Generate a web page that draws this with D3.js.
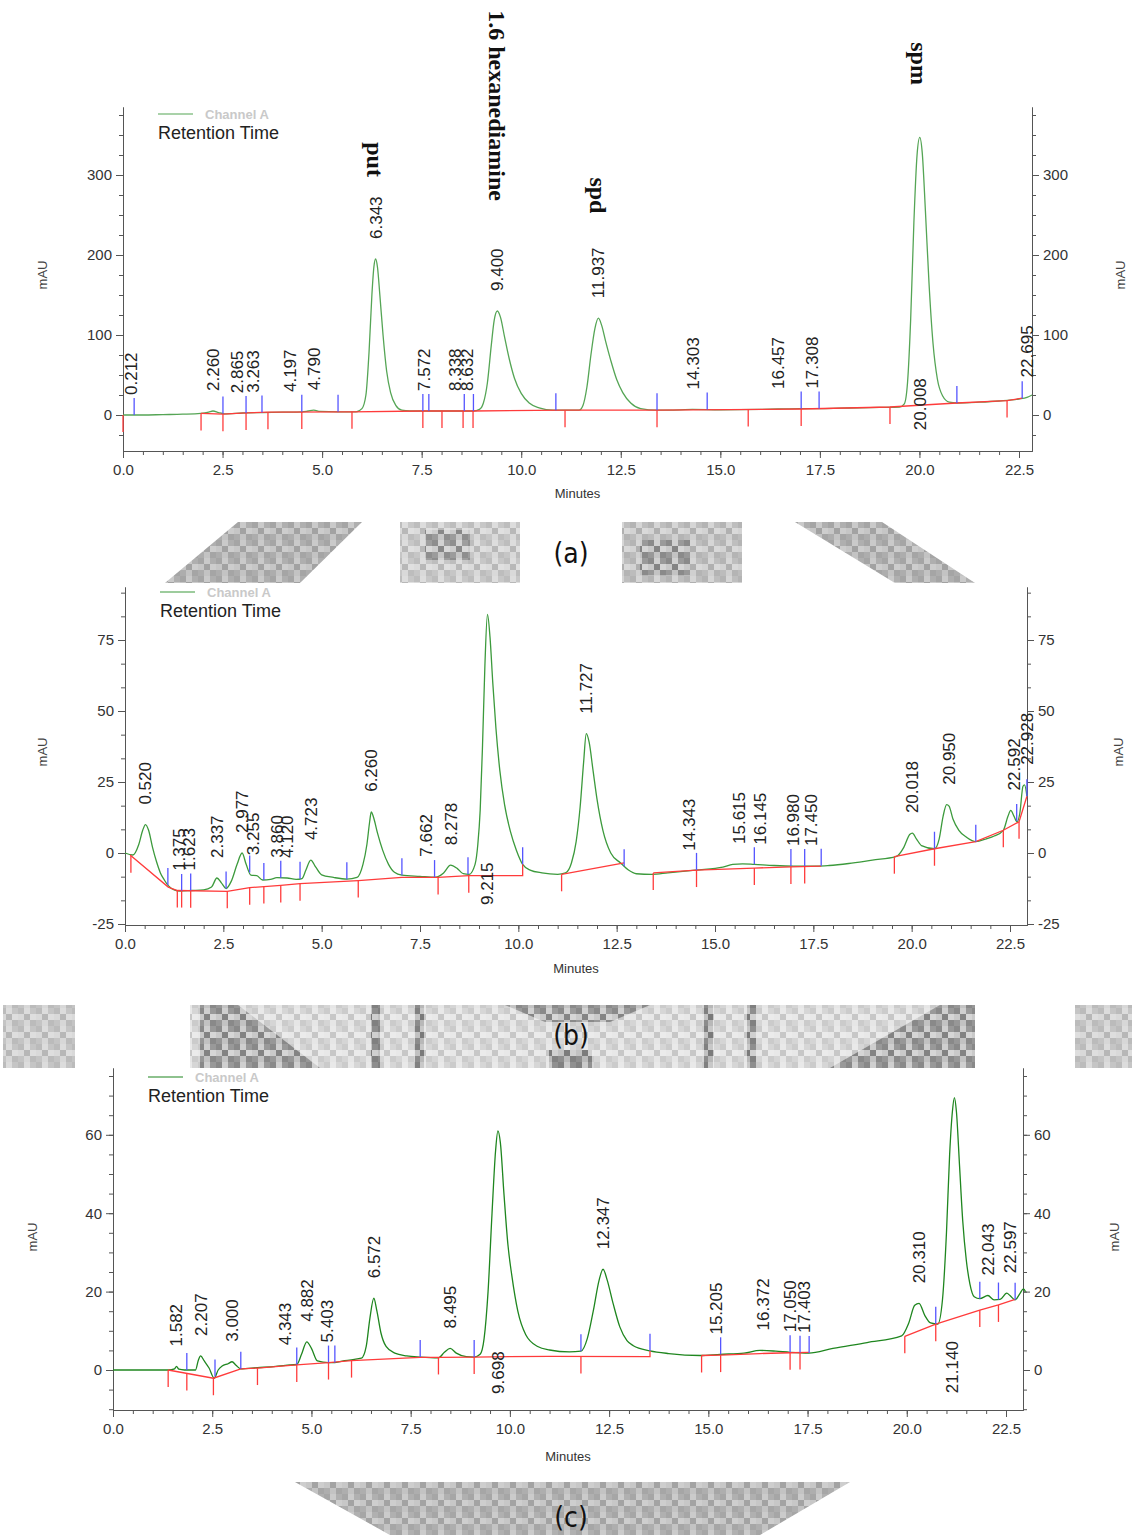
<!DOCTYPE html>
<html>
<head>
<meta charset="utf-8">
<script src="https://cdn.jsdelivr.net/npm/d3@7"></script>
<style>
body { margin: 0; background: #fff; }
text { font-family: "Liberation Sans", Arial, sans-serif; }
</style>
</head>
<body>
<div id="chart"></div>
<script>
// ---- data: [minutes, mAU] ----
var traceA = [[0,0],[0.5,0],[1.0,0.5],[1.5,1],[1.95,2],[2.15,3.5],[2.26,5],[2.4,3],[2.55,1.5],[3.0,2.5],[3.5,3],[4.0,3.5],[4.5,4],[4.65,5],[4.79,6],[4.95,4.5],[5.4,4],[5.85,4],[6.0,8],[6.1,25],[6.18,80],[6.25,150],[6.3,185],[6.343,195],[6.39,185],[6.45,150],[6.53,100],[6.62,55],[6.72,28],[6.85,12],[7.0,6],[7.2,5],[7.6,5],[8.2,5],[8.8,5],[8.95,7],[9.05,15],[9.15,40],[9.25,88],[9.32,118],[9.4,130],[9.48,122],[9.58,98],[9.7,70],[9.83,46],[10.0,27],[10.2,15],[10.45,9],[10.8,6],[11.45,6],[11.55,12],[11.65,35],[11.75,75],[11.85,108],[11.937,121],[12.02,112],[12.12,92],[12.25,68],[12.4,44],[12.55,28],[12.75,15],[13.0,8],[13.4,6],[14.0,6.5],[14.3,7],[15.0,6.5],[16.0,7],[16.45,7.5],[17.0,8],[17.5,8],[18.0,8.5],[18.5,9],[19.0,9.5],[19.5,10],[19.62,14],[19.7,40],[19.78,120],[19.86,240],[19.94,325],[20.008,347],[20.07,328],[20.15,255],[20.24,165],[20.34,90],[20.45,45],[20.58,24],[20.75,16],[20.94,15],[21.5,16],[22.0,17.5],[22.5,20],[22.7,22],[22.83,25]];
var baseA = [[[1.96,2],[2.51,1],[3.09,2.6],[3.64,3.5],[5.75,4],[7.53,5],[8.79,5],[11.1,6],[13.41,6],[17.03,7.5],[19.26,10],[20.94,15],[22.2,18],[22.58,21]]];
var blueA = [0.28,2.51,3.09,3.49,4.49,5.4,7.53,7.68,8.57,8.8,10.87,13.41,14.67,17.03,17.48,20.94,22.58];
var redA = [0.0,1.96,2.51,3.09,3.64,4.49,5.75,7.53,8.01,8.54,8.79,11.1,13.41,15.7,17.03,19.26,22.2];
var rtA = [0.212,2.260,2.865,3.263,4.197,4.790,6.343,7.572,8.338,8.632,9.400,11.937,14.303,16.457,17.308,22.695];
var rtBelowA = [[20.008,-19]];

var compounds = ["put", "1.6 hexanediamine", "spd", "spm"];
var compoundRT = [6.343, 9.400, 11.937, 20.008];
var compoundTop = [341, 506, 297, 466];

var traceB = [[0,0],[0.2,-0.7],[0.35,3],[0.45,8],[0.52,10],[0.6,8],[0.7,2],[0.8,-3],[0.9,-7],[1.0,-9.5],[1.1,-11.5],[1.25,-13],[1.4,-13.4],[1.7,-13.2],[2.0,-13],[2.2,-12],[2.337,-8.8],[2.45,-10.5],[2.57,-12.5],[2.7,-10],[2.85,-4],[2.977,0],[3.08,-4],[3.2,-7.8],[3.35,-8],[3.5,-9.5],[3.7,-9.3],[3.86,-8.7],[4.12,-8.8],[4.35,-9.3],[4.5,-9],[4.6,-6],[4.723,-2.5],[4.85,-5],[5.0,-7.7],[5.3,-8.6],[5.64,-9.2],[5.9,-8.6],[6.05,-4],[6.15,3],[6.22,11],[6.26,14.5],[6.32,12.5],[6.42,7],[6.55,1],[6.7,-4],[6.85,-6.8],[7.04,-7.8],[7.5,-8.2],[7.9,-8.5],[8.1,-7],[8.278,-4.3],[8.45,-5.5],[8.6,-7.3],[8.75,-7.5],[8.9,-4],[8.97,3],[9.03,15],[9.09,38],[9.15,66],[9.215,84],[9.28,76],[9.35,60],[9.43,44],[9.53,29],[9.65,17],[9.8,7.5],[9.95,1],[10.11,-4],[10.3,-6],[10.6,-7],[11.0,-7.5],[11.2,-7],[11.35,-3.5],[11.47,4],[11.57,16],[11.66,32],[11.727,42],[11.8,39],[11.9,29],[12.0,19],[12.15,8],[12.35,0],[12.6,-3.5],[12.8,-6],[13.0,-7.3],[13.4,-7.5],[13.8,-7],[14.5,-6],[15.2,-5],[15.45,-4],[15.7,-3.8],[16.0,-4],[16.5,-4.4],[17.0,-4.6],[17.6,-4.6],[17.9,-4.4],[18.4,-3.7],[19.0,-2.5],[19.6,-1.3],[19.8,2],[19.95,6.5],[20.018,7],[20.12,5],[20.25,2.6],[20.58,1.5],[20.7,5],[20.8,13],[20.89,17],[20.95,16.5],[21.05,12],[21.2,8],[21.4,5.5],[21.63,4],[21.9,5],[22.1,6],[22.33,8],[22.45,13],[22.52,15],[22.6,13],[22.68,11],[22.75,14],[22.83,23.5],[22.87,24],[22.93,20]];
var baseB = [
  [[0.13,-0.7],[1.1,-12],[1.33,-13.2],[2.6,-13.5],[3.17,-12.2],[3.96,-11.4],[4.45,-10.8],[5.93,-9.7],[7.04,-8.6],[7.96,-8.6],[8.74,-8],[10.11,-8],[10.11,-4]],
  [[11.1,-7.5],[12.69,-3.5]],
  [[13.43,-7],[14.53,-6],[16.0,-5.3],[16.93,-4.9],[17.7,-4.6]],
  [[19.56,-1.3],[20.58,1.5],[21.63,4],[22.33,8],[22.73,11],[22.93,20]]
];
var blueB = [1.09,1.44,1.67,2.57,3.17,3.53,3.96,4.45,5.64,7.04,7.87,8.72,10.11,12.69,14.53,16.0,16.93,17.28,17.7,20.58,21.63,22.67,22.93];
var redB = [0.15,1.33,1.44,1.67,2.6,3.17,3.53,3.96,4.45,5.93,7.96,8.74,11.1,13.43,14.53,16.0,16.93,17.28,19.56,20.58,22.33,22.73];
var rtB = [0.520,1.375,1.623,2.337,2.977,3.255,3.860,4.120,4.723,6.260,7.662,8.278,11.727,14.343,15.615,16.145,16.980,17.450,20.018,20.950,22.592,22.928];
var rtBelowB = [[9.215,-18.3]];

var traceC = [[0,0],[1.4,0],[1.55,0.3],[1.6,0.9],[1.66,0.2],[1.8,0],[2.08,0],[2.15,2.5],[2.207,3.6],[2.3,2.3],[2.42,0.5],[2.55,-2.1],[2.65,0],[2.75,1],[2.9,1.6],[3.0,2.1],[3.1,1.2],[3.22,0.3],[3.64,0.6],[4.1,0.9],[4.343,1.2],[4.63,1.4],[4.75,4],[4.882,7.2],[5.0,5.5],[5.15,2.3],[5.43,1.9],[5.59,1.9],[5.84,2.4],[6.26,3.0],[6.38,6],[6.47,13],[6.572,18.3],[6.65,15],[6.75,9.5],[6.88,6],[7.1,4.3],[7.4,3.6],[7.74,3.3],[8.2,3.1],[8.35,4.5],[8.495,5.5],[8.65,4.3],[8.9,3.4],[9.1,3.3],[9.25,4],[9.35,8],[9.45,20],[9.55,40],[9.64,56],[9.698,61],[9.76,58],[9.85,45],[9.95,32],[10.05,24],[10.2,15],[10.4,9],[10.7,6],[11.0,5.1],[11.5,4.6],[11.79,4.8],[11.95,8],[12.1,15],[12.25,23],[12.347,25.7],[12.45,23],[12.6,17],[12.77,11],[12.95,7.5],[13.11,6.2],[13.53,4.9],[14.0,4.2],[14.79,3.7],[15.3,4.0],[15.9,4.3],[16.3,5.0],[16.7,4.8],[17.06,4.5],[17.53,4.3],[18.14,5.5],[19.0,7.0],[19.87,8.7],[20.05,12],[20.2,16.5],[20.31,17],[20.45,14],[20.6,12],[20.78,11.7],[20.9,18],[21.0,35],[21.08,55],[21.15,66],[21.2,69.5],[21.25,66],[21.33,52],[21.41,38],[21.5,28],[21.59,22],[21.7,18.7],[21.84,18.2],[22.043,19],[22.2,17.9],[22.35,18],[22.52,19.6],[22.6,19],[22.73,17.9],[22.85,19.5],[22.94,20.7],[22.99,20]];
var baseC = [
  [[1.39,0],[2.53,-2.1],[3.22,0.3],[3.64,0.5],[4.63,1.3],[5.43,1.9],[6.01,2.4],[7.74,3.2],[8.2,3.2],[9.1,3.3],[11.0,3.5],[13.53,3.4],[13.53,4.9]],
  [[14.83,3.7],[15.31,3.8],[16.3,4.2],[17.06,4.4],[17.54,4.5]],
  [[19.95,8.6],[20.73,11.7],[21.84,15.3],[22.31,16.6],[22.73,18]]
];
var blueC = [1.86,2.57,3.22,4.63,5.43,5.59,7.74,9.1,11.79,13.53,15.31,17.06,17.31,17.54,20.73,21.84,22.31,22.73];
var redC = [1.39,1.86,2.53,3.64,4.63,5.43,6.01,8.2,9.1,11.79,14.83,15.31,17.06,17.31,19.95,20.73,21.84,22.31];
var rtC = [1.582,2.207,3.000,4.343,4.882,5.403,6.572,8.495,12.347,15.205,16.372,17.050,17.403,20.310,22.043,22.597];
var rtBelowC = [[9.698,-6.1],[21.140,-5.9]];

var xTickLabels = [0, 2.5, 5, 7.5, 10, 12.5, 15, 17.5, 20, 22.5];

// ---- layout ----
var W = 1132, H = 1535;
var svg = d3.select("#chart").append("svg").attr("width", W).attr("height", H);

// mottled texture for the scanned scraps between the panels
var pat = svg.append("defs").append("pattern")
    .attr("id", "mottle")
    .attr("patternUnits", "userSpaceOnUse")
    .attr("width", 18).attr("height", 18);
[[0,0,"rgba(0,0,0,0.10)"],[6,0,"rgba(255,255,255,0.25)"],[12,0,"rgba(0,0,0,0.05)"],
 [0,6,"rgba(255,255,255,0.20)"],[6,6,"rgba(0,0,0,0.12)"],[12,6,"rgba(255,255,255,0.30)"],
 [0,12,"rgba(0,0,0,0.06)"],[6,12,"rgba(255,255,255,0.15)"],[12,12,"rgba(0,0,0,0.10)"]]
  .forEach(function(c) {
    pat.append("rect").attr("x", c[0]).attr("y", c[1]).attr("width", 6).attr("height", 6).attr("fill", c[2]);
  });

var scraps = [
  {p:[[238,522],[362,522],[300,583],[165,583]], c:"#b8b8b8"},
  {p:[[400,522],[520,522],[520,583],[400,583]], c:"#d2d2d2"},
  {p:[[425,530],[470,530],[470,560],[425,560]], c:"#b0b0b0"},
  {p:[[622,522],[742,522],[742,583],[622,583]], c:"#c8c8c8"},
  {p:[[640,540],[690,540],[690,575],[640,575]], c:"#ababab"},
  {p:[[795,522],[882,522],[975,583],[895,583]], c:"#b8b8b8"},
  {p:[[3,1005],[75,1005],[75,1068],[3,1068]], c:"#d0d0d0"},
  {p:[[190,1005],[975,1005],[975,1068],[190,1068]], c:"#e2e2e2"},
  {p:[[200,1005],[238,1005],[320,1068],[200,1068]], c:"#aaaaaa"},
  {p:[[940,1005],[975,1005],[975,1068],[830,1068]], c:"#aaaaaa"},
  {p:[[371,1005],[380,1005],[380,1068],[371,1068]], c:"#9e9e9e"},
  {p:[[415,1005],[424,1005],[424,1068],[415,1068]], c:"#9e9e9e"},
  {p:[[704,1005],[713,1005],[713,1068],[704,1068]], c:"#9e9e9e"},
  {p:[[747,1005],[756,1005],[756,1068],[747,1068]], c:"#9e9e9e"},
  {p:[[505,1005],[650,1005],[610,1022],[545,1022]], c:"#acacac"},
  {p:[[549,1050],[592,1050],[592,1068],[549,1068]], c:"#a0a0a0"},
  {p:[[1075,1005],[1132,1005],[1132,1068],[1075,1068]], c:"#d0d0d0"},
  {p:[[295,1482],[850,1482],[760,1535],[390,1535]], c:"#b9b9b9"}
];
var scrapG = svg.append("g");
scrapG.selectAll("polygon.base")
    .data(scraps)
    .enter()
    .append("polygon")
    .attr("points", function(d) { return d.p.join(" "); })
    .attr("fill", function(d) { return d.c; });
scrapG.selectAll("polygon.tex")
    .data(scraps)
    .enter()
    .append("polygon")
    .attr("points", function(d) { return d.p.join(" "); })
    .attr("fill", "url(#mottle)");

var panels = [
  {trace:traceA, base:baseA, blue:blueA, red:redA, rt:rtA, below:rtBelowA,
   left:123, right:1032, x225:1019, top:107, bottom:451, y0:415, k:0.8,
   yMajor:[0,100,200,300], yStep:25, color:"#55a555",
   legX:158, legY:114, tag:"(a)", tagY:553, minY:498, mauY:275, mauL:42, mauR:1120},
  {trace:traceB, base:baseB, blue:blueB, red:redB, rt:rtB, below:rtBelowB,
   left:125, right:1027, x225:1010, top:587, bottom:925, y0:853, k:2.84,
   yMajor:[-25,0,25,50,75], yStep:25/3, color:"#3c9a3c",
   legX:160, legY:592, tag:"(b)", tagY:1035, minY:973, mauY:752, mauL:42, mauR:1118},
  {trace:traceC, base:baseC, blue:blueC, red:redC, rt:rtC, below:rtBelowC,
   left:113, right:1023, x225:1006, top:1068, bottom:1410, y0:1370, k:3.92,
   yMajor:[0,20,40,60], yStep:5, color:"#1f861f",
   legX:148, legY:1077, tag:"(c)", tagY:1517, minY:1461, mauY:1237, mauL:32, mauR:1114}
];

function valueAt(pts, t) {
  var i = d3.bisector(function(d) { return d[0]; }).left(pts, t);
  if (i <= 0) return pts[0][1];
  if (i >= pts.length) return pts[pts.length - 1][1];
  var a = pts[i - 1], b = pts[i];
  if (b[0] === a[0]) return b[1];
  return a[1] + (b[1] - a[1]) * (t - a[0]) / (b[0] - a[0]);
}

function peakNear(pts, t) {
  var m = valueAt(pts, t);
  pts.forEach(function(d) {
    if (Math.abs(d[0] - t) <= 0.08 && d[1] > m) m = d[1];
  });
  return m;
}

function baseAt(p, t) {
  for (var s = 0; s < p.base.length; s++) {
    var seg = p.base[s];
    if (t >= seg[0][0] - 0.01 && t <= seg[seg.length - 1][0] + 0.01) return valueAt(seg, t);
  }
  return valueAt(p.trace, t);
}

function styleAxis(g, size) {
  g.attr("font-family", "Liberation Sans, Arial, sans-serif").attr("font-size", size);
  g.selectAll("path,line").attr("stroke", "#555");
  g.selectAll("text").attr("fill", "#333");
}

function plain(d) { return String(d); }

function drawPanel(p) {
  var xMax = 22.5 * (p.right - p.left) / (p.x225 - p.left);
  var x = d3.scaleLinear().domain([0, xMax]).range([p.left, p.right]);
  var y = d3.scaleLinear()
      .domain([-(p.bottom - p.y0) / p.k, (p.y0 - p.top) / p.k])
      .range([p.bottom, p.top]);
  var yd = y.domain();
  var g = svg.append("g");

  // axes
  var minorX = d3.range(0, xMax, 0.5);
  var minorY = d3.range(Math.ceil(yd[0] / p.yStep) * p.yStep, yd[1], p.yStep);

  g.append("g").attr("transform", "translate(0," + p.bottom + ")")
      .call(d3.axisBottom(x).tickValues(minorX).tickSize(4).tickSizeOuter(0).tickFormat(""))
      .call(styleAxis, 15);
  g.append("g").attr("transform", "translate(0," + p.bottom + ")")
      .call(d3.axisBottom(x).tickValues(xTickLabels).tickSize(7).tickPadding(6)
            .tickSizeOuter(0).tickFormat(d3.format(".1f")))
      .call(styleAxis, 15);

  g.append("g").attr("transform", "translate(" + p.left + ",0)")
      .call(d3.axisLeft(y).tickValues(minorY).tickSize(4).tickSizeOuter(0).tickFormat(""))
      .call(styleAxis, 15);
  g.append("g").attr("transform", "translate(" + p.left + ",0)")
      .call(d3.axisLeft(y).tickValues(p.yMajor).tickSize(7).tickPadding(4)
            .tickSizeOuter(0).tickFormat(plain))
      .call(styleAxis, 15);

  g.append("g").attr("transform", "translate(" + p.right + ",0)")
      .call(d3.axisRight(y).tickValues(minorY).tickSize(4).tickSizeOuter(0).tickFormat(""))
      .call(styleAxis, 15);
  g.append("g").attr("transform", "translate(" + p.right + ",0)")
      .call(d3.axisRight(y).tickValues(p.yMajor).tickSize(7).tickPadding(4)
            .tickSizeOuter(0).tickFormat(plain))
      .call(styleAxis, 15);

  g.append("text")
      .attr("x", (p.left + p.right) / 2)
      .attr("y", p.minY)
      .attr("text-anchor", "middle")
      .attr("font-size", 13)
      .attr("fill", "#333")
      .text("Minutes");

  [[p.mauL, p.mauY], [p.mauR, p.mauY]].forEach(function(m) {
    g.append("text")
        .attr("transform", "translate(" + m[0] + "," + m[1] + ") rotate(-90)")
        .attr("text-anchor", "middle")
        .attr("dy", "0.35em")
        .attr("font-size", 13)
        .attr("fill", "#444")
        .text("mAU");
  });

  // legend
  g.append("line")
      .attr("x1", p.legX).attr("x2", p.legX + 35)
      .attr("y1", p.legY).attr("y2", p.legY)
      .attr("stroke", p.color).attr("stroke-width", 1.2);
  g.append("text")
      .attr("x", p.legX + 47).attr("y", p.legY + 5)
      .attr("font-size", 13).attr("font-weight", "bold")
      .attr("fill", "#c9c9c9")
      .text("Channel A");
  g.append("text")
      .attr("x", p.legX).attr("y", p.legY + 25)
      .attr("font-size", 18).attr("fill", "#222")
      .text("Retention Time");

  // trace
  var line = d3.line()
      .x(function(d) { return x(d[0]); })
      .y(function(d) { return y(d[1]); })
      .curve(d3.curveMonotoneX);
  g.append("path")
      .datum(p.trace)
      .attr("d", line)
      .attr("fill", "none")
      .attr("stroke", p.color)
      .attr("stroke-width", 1.3);

  // integration baseline
  var straight = d3.line()
      .x(function(d) { return x(d[0]); })
      .y(function(d) { return y(d[1]); });
  g.selectAll("path.base")
      .data(p.base)
      .enter()
      .append("path")
      .attr("d", straight)
      .attr("fill", "none")
      .attr("stroke", "#ff3b3b")
      .attr("stroke-width", 1.3);

  // event marks
  g.selectAll("line.blue")
      .data(p.blue)
      .enter()
      .append("line")
      .attr("x1", function(d) { return x(d); })
      .attr("x2", function(d) { return x(d); })
      .attr("y1", function(d) { return y(valueAt(p.trace, d)); })
      .attr("y2", function(d) { return y(valueAt(p.trace, d)) - 17; })
      .attr("stroke", "#5555ff")
      .attr("stroke-width", 1.3);

  g.selectAll("line.red")
      .data(p.red)
      .enter()
      .append("line")
      .attr("x1", function(d) { return x(d); })
      .attr("x2", function(d) { return x(d); })
      .attr("y1", function(d) { return y(baseAt(p, d)); })
      .attr("y2", function(d) { return y(baseAt(p, d)) + 17; })
      .attr("stroke", "#ff3b3b")
      .attr("stroke-width", 1.3);

  // retention time labels
  g.selectAll("text.rt")
      .data(p.rt)
      .enter()
      .append("text")
      .attr("transform", function(d) {
        return "translate(" + x(d) + "," + (y(peakNear(p.trace, d)) - 20) + ") rotate(-90)";
      })
      .attr("dy", "0.35em")
      .attr("font-size", 17)
      .attr("fill", "#222")
      .text(function(d) { return d3.format(".3f")(d); });

  g.selectAll("text.rtb")
      .data(p.below)
      .enter()
      .append("text")
      .attr("transform", function(d) {
        return "translate(" + x(d[0]) + "," + y(d[1]) + ") rotate(-90)";
      })
      .attr("dy", "0.35em")
      .attr("font-size", 17)
      .attr("fill", "#222")
      .text(function(d) { return d3.format(".3f")(d[0]); });

  svg.append("text")
      .attr("x", 571)
      .attr("y", p.tagY)
      .attr("text-anchor", "middle")
      .attr("dy", "0.35em")
      .attr("font-size", 28)
      .style("font-family", "'Liberation Sans Narrow', 'DejaVu Sans Condensed', sans-serif")
      .attr("fill", "#111")
      .text(p.tag);

  return {x: x, y: y};
}

var scalesA = drawPanel(panels[0]);
panels.slice(1).forEach(drawPanel);

// compound names over chromatogram (a)
svg.selectAll("text.compound")
    .data(compounds)
    .enter()
    .append("text")
    .attr("transform", function(d, i) {
      return "translate(" + scalesA.x(compoundRT[i]) + "," + scalesA.y(compoundTop[i]) + ") rotate(90)";
    })
    .attr("dy", "0.35em")
    .attr("font-size", 24)
    .attr("font-weight", "bold")
    .style("font-family", "'Liberation Serif', 'Times New Roman', serif")
    .attr("fill", "#111")
    .text(function(d) { return d; });
</script>
</body>
</html>
